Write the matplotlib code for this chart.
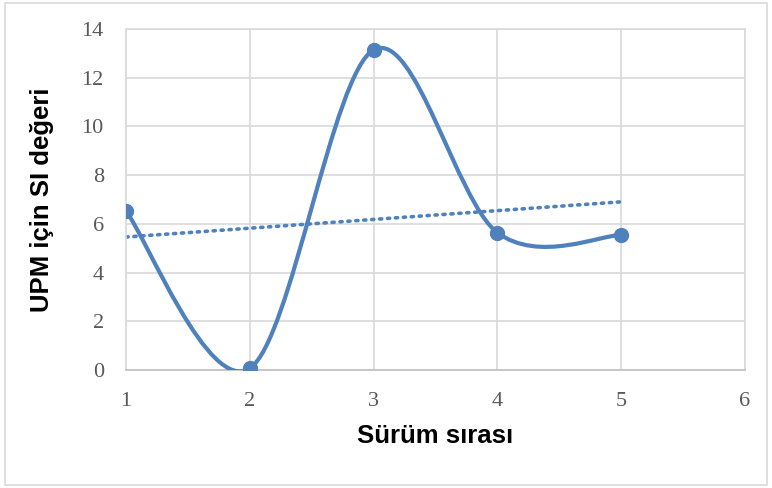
import numpy as np
import matplotlib as mpl
mpl.use('Agg')
import matplotlib.pyplot as plt
from matplotlib.path import Path
from matplotlib.patches import PathPatch, Rectangle

# data
surum = [1, 2, 3, 4, 5]
si_degeri = [6.52, 0.07, 13.14, 5.64, 5.54]
x_ticks = [1, 2, 3, 4, 5, 6]
y_ticks = [0, 2, 4, 6, 8, 10, 12, 14]

blue = '#4f81bd'
grid_col = '#d9d9d9'
text_col = '#595959'


def excel_smooth_path(xs, ys):
    # Excel-like smoothed line: cubic Bezier through points, tension 1/6
    pts = np.column_stack([xs, ys]).astype(float)
    ext = np.vstack([pts[0], pts, pts[-1]])
    verts = [pts[0]]
    codes = [Path.MOVETO]
    for i in range(len(pts) - 1):
        p0, p1, p2, p3 = ext[i], ext[i + 1], ext[i + 2], ext[i + 3]
        c1 = p1 + (p2 - p0) / 6.0
        c2 = p2 - (p3 - p1) / 6.0
        verts += [c1, c2, p2]
        codes += [Path.CURVE4] * 3
    return Path(verts, codes)


fig = plt.figure(figsize=(7.72, 4.88), dpi=100)
ax = fig.add_axes([0.1632, 0.2418, 0.8018, 0.6988])

# chart outer border
fig.patches.append(Rectangle((5 / 772, 3 / 488), 762 / 772, 482 / 488,
                             transform=fig.transFigure, fill=False,
                             edgecolor=grid_col, lw=1.2))

patch = PathPatch(excel_smooth_path(surum, si_degeri), facecolor='none',
                  edgecolor=blue, lw=3, zorder=3, capstyle='round')
ax.add_patch(patch)
ax.plot(surum, si_degeri, 'o', color=blue, ms=10, zorder=4)

# linear trendline
k, b = np.polyfit(surum, si_degeri, 1)
tx = np.array([surum[0], surum[-1]])
ax.plot(tx, k * tx + b, linestyle=(0, (0.6, 1.6)), color=blue, lw=2.6,
        dash_capstyle='round', zorder=2)

ax.set_xlim(1, 6)
ax.set_ylim(0, 14)
ax.set_xticks(x_ticks)
ax.set_yticks(y_ticks)
ax.grid(True, color=grid_col, lw=1.2)
ax.set_axisbelow(True)
for s in ax.spines.values():
    s.set_color(grid_col)
    s.set_linewidth(1.2)
ax.spines['bottom'].set_color('#bfbfbf')
ax.tick_params(length=0, labelsize=16, colors=text_col)
ax.tick_params(axis='x', pad=16)
ax.tick_params(axis='y', pad=16)
for lbl in ax.get_xticklabels() + ax.get_yticklabels():
    lbl.set_family('Liberation Serif')

ax.set_xlabel('Sürüm sırası', fontsize=18.5, fontweight='bold',
              family='Liberation Sans', labelpad=9)
ax.set_ylabel('UPM için SI değeri', fontsize=18.5, fontweight='bold',
              family='Liberation Sans', labelpad=20)

plt.savefig('out.png', dpi=100)
